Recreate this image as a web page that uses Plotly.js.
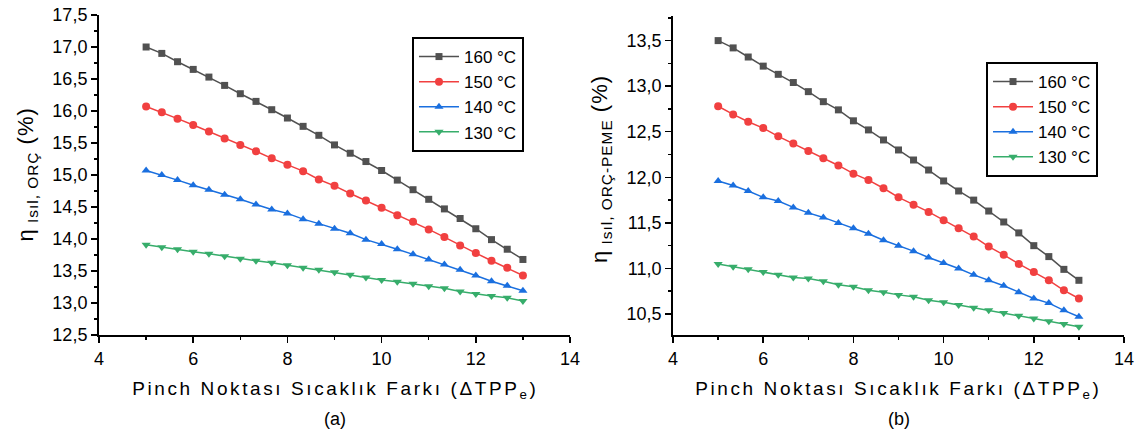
<!DOCTYPE html>
<html>
<head>
<meta charset="utf-8">
<script src="https://cdn.plot.ly/plotly-3.0.1.min.js"></script>
<style>
html,body{margin:0;padding:0;background:#fff;}
#chart{width:1146px;height:436px;}
.annotation[data-index="0"] text, .annotation[data-index="2"] text { letter-spacing: 2.6px; }
.annotation[data-index="4"] text, .annotation[data-index="5"] text { letter-spacing: 1px; }
</style>
</head>
<body>
<div id="chart"></div>
<script>
// Pinch point temperature difference (x)
const dTPP = [5, 5.333, 5.667, 6, 6.333, 6.667, 7, 7.333, 7.667, 8, 8.333, 8.667, 9, 9.333, 9.667, 10, 10.333, 10.667, 11, 11.333, 11.667, 12, 12.333, 12.667, 13];
const seriesNames = ["160 °C", "150 °C", "140 °C", "130 °C"];

// (a) ORÇ thermal efficiency (%)
const orc160 = [17.00, 16.90, 16.77, 16.65, 16.53, 16.40, 16.27, 16.15, 16.02, 15.89, 15.76, 15.62, 15.47, 15.34, 15.21, 15.07, 14.92, 14.77, 14.62, 14.47, 14.32, 14.16, 13.99, 13.84, 13.68];
const orc150 = [16.07, 15.98, 15.88, 15.78, 15.68, 15.57, 15.47, 15.37, 15.26, 15.16, 15.06, 14.93, 14.83, 14.71, 14.60, 14.49, 14.37, 14.27, 14.15, 14.03, 13.90, 13.78, 13.66, 13.55, 13.43];
const orc140 = [15.07, 15.00, 14.92, 14.84, 14.77, 14.69, 14.62, 14.54, 14.46, 14.40, 14.31, 14.24, 14.16, 14.09, 13.99, 13.92, 13.84, 13.76, 13.68, 13.60, 13.52, 13.43, 13.34, 13.27, 13.19];
const orc130 = [13.91, 13.87, 13.84, 13.80, 13.77, 13.73, 13.69, 13.66, 13.63, 13.59, 13.55, 13.52, 13.48, 13.44, 13.40, 13.36, 13.33, 13.30, 13.26, 13.23, 13.18, 13.14, 13.11, 13.08, 13.03];

// (b) ORÇ-PEME thermal efficiency (%)
const peme160 = [13.50, 13.42, 13.32, 13.22, 13.13, 13.04, 12.94, 12.83, 12.74, 12.62, 12.52, 12.41, 12.30, 12.19, 12.08, 11.96, 11.85, 11.75, 11.63, 11.51, 11.39, 11.25, 11.13, 10.99, 10.87];
const peme150 = [12.78, 12.69, 12.61, 12.54, 12.45, 12.37, 12.29, 12.21, 12.13, 12.04, 11.97, 11.88, 11.78, 11.70, 11.62, 11.53, 11.44, 11.35, 11.24, 11.15, 11.05, 10.96, 10.87, 10.76, 10.67];
const peme140 = [11.96, 11.91, 11.85, 11.78, 11.74, 11.67, 11.61, 11.56, 11.50, 11.44, 11.38, 11.31, 11.25, 11.19, 11.12, 11.06, 11.00, 10.93, 10.87, 10.81, 10.74, 10.67, 10.62, 10.54, 10.47];
const peme130 = [11.05, 11.02, 10.99, 10.96, 10.93, 10.90, 10.89, 10.86, 10.82, 10.80, 10.76, 10.74, 10.71, 10.69, 10.65, 10.63, 10.60, 10.57, 10.54, 10.51, 10.48, 10.45, 10.42, 10.39, 10.36];

const xTitle = "Pinch Noktası Sıcaklık Farkı (ΔTPP<sub>e</sub>)";
const panelLabels = ["(a)", "(b)"];
const yTitleA = "η<sub> Isıl, ORÇ</sub> (%)";
const yTitleB = "η<sub> Isıl, ORÇ-PEME</sub> (%)";

const colors = ["#515151", "#F14040", "#1A6FDF", "#37AD6B"];
const symbols = ["square", "circle", "triangle-up", "triangle-down"];
const msizes = [7, 8, 8, 8];
const FONT = "Liberation Sans, Arial, sans-serif";

const traces = [];
[orc160, orc150, orc140, orc130].forEach((ys, i) => {
  traces.push({x: dTPP, y: ys, type: "scatter", mode: "lines+markers", name: seriesNames[i],
    xaxis: "x", yaxis: "y", legend: "legend",
    line: {color: colors[i], width: 1.5}, marker: {color: colors[i], symbol: symbols[i], size: msizes[i]}});
});
[peme160, peme150, peme140, peme130].forEach((ys, i) => {
  traces.push({x: dTPP, y: ys, type: "scatter", mode: "lines+markers", name: seriesNames[i],
    xaxis: "x2", yaxis: "y2", legend: "legend2",
    line: {color: colors[i], width: 1.5}, marker: {color: colors[i], symbol: symbols[i], size: msizes[i]}});
});

function xax(domain, anchor) {
  return {domain: domain, anchor: anchor, range: [4, 14], dtick: 2, tick0: 4,
    showline: true, linecolor: "#000", linewidth: 2, ticks: "outside", ticklen: 6, tickwidth: 1.5, tickcolor: "#000",
    minor: {dtick: 1, ticks: "outside", ticklen: 3, tickwidth: 1.5, tickcolor: "#000"},
    showgrid: false, zeroline: false,
    tickfont: {family: FONT, size: 18, color: "#000"}};
}
function yax(domain, anchor, range) {
  return {domain: domain, anchor: anchor, range: range, dtick: 0.5, tick0: 0,
    tickformat: ".1f",
    showline: true, linecolor: "#000", linewidth: 2, ticks: "outside", ticklen: 6, tickwidth: 1.5, tickcolor: "#000",
    minor: {dtick: 0.25, ticks: "outside", ticklen: 3, tickwidth: 1.5, tickcolor: "#000"},
    showgrid: false, zeroline: false,
    tickfont: {family: FONT, size: 18, color: "#000"}};
}
const legendBase = {xanchor: "left", yanchor: "top", bgcolor: "#fff", bordercolor: "#000", borderwidth: 2,
  font: {family: FONT, size: 17, color: "#000"}, itemwidth: 40, tracegroupgap: 0};

function ann(text, x, y, size, angle) {
  return {text: text, xref: "paper", yref: "paper", x: x, y: y, xanchor: "center", yanchor: "middle",
    showarrow: false, textangle: angle || 0, font: {family: FONT, size: size, color: "#000"}};
}

const layout = {
  width: 1146, height: 436,
  margin: {l: 0, r: 0, t: 0, b: 0},
  paper_bgcolor: "#fff", plot_bgcolor: "#fff",
  separators: ",.",
  showlegend: true,
  xaxis: xax([0.0864, 0.4974], "y"),
  yaxis: yax([0.2317, 0.9656], "x", [12.5, 17.5]),
  xaxis2: xax([0.5873, 0.9808], "y2"),
  yaxis2: yax([0.2317, 0.9633], "x2", [10.27, 13.77]),
  legend: Object.assign({}, legendBase, {x: 0.3595, y: 0.9151}),
  legend2: Object.assign({}, legendBase, {x: 0.8604, y: 0.8578}),
  annotations: [
    ann(xTitle, 335 / 1146, 1 - 390 / 436, 19),
    ann(panelLabels[0], 335 / 1146, 1 - 419 / 436, 18),
    ann(xTitle, 899 / 1146, 1 - 390 / 436, 19),
    ann(panelLabels[1], 899 / 1146, 1 - 419 / 436, 18),
    ann(yTitleA, 27 / 1146, 1 - 175 / 436, 22, -90),
    ann(yTitleB, 601 / 1146, 1 - 169 / 436, 22, -90)
  ]
};

Plotly.newPlot("chart", traces, layout, {staticPlot: true, displayModeBar: false});
</script>
</body>
</html>
